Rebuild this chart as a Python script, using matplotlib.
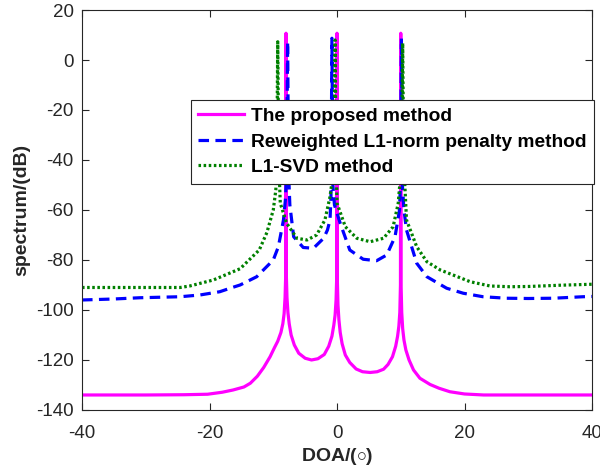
import numpy as np
import matplotlib.pyplot as plt

plt.rcParams['font.family'] = ['Liberation Sans', 'DejaVu Sans']
plt.rcParams['mathtext.fontset'] = 'custom'
plt.rcParams['mathtext.rm'] = 'Liberation Sans'
plt.rcParams['axes.unicode_minus'] = False

# The proposed method
doa_prop = [-40, -30, -24, -20.3, -18, -16.3, -14.6, -13.6, -12.5, -11.5, -10.5, -9.8, -9.3, -8.8, -8.5,
            -8.3, -8.15, -8.05, -8.0,
            -7.95, -7.85, -7.7, -7.5, -7.2, -6.7, -6, -5, -4, -3, -2, -1.3, -0.8, -0.5,
            -0.3, -0.15, -0.05, 0,
            0.05, 0.15, 0.3, 0.5, 0.8, 1.3, 2, 3, 4, 5.2, 6.3, 7.3, 8, 8.7, 9.2, 9.5, 9.7,
            9.85, 9.95, 10,
            10.05, 10.15, 10.3, 10.5, 10.8, 11.3, 12, 13, 14.6, 16, 17.7, 20, 23, 30, 40]
spec_prop = [-134, -134, -133.9, -133.7, -132.9, -132, -130.8, -129.3, -126.5, -123, -118.7, -115, -112.5, -109, -105.5,
             -101.5, -95, -86, 10.7,
             -86, -95, -101, -105.5, -110, -114, -117.3, -119.3, -120, -119.5, -117.8, -114.5, -110.5, -106,
             -102, -96, -87, 10.7,
             -88, -98, -104, -109, -113.5, -118, -121, -123.6, -124.7, -125, -124.7, -123.7, -121.8, -118.7, -114.5, -110.5, -106.5,
             -101, -90, 10.7,
             -90, -101, -107.5, -112, -116, -120, -124, -127.3, -129.8, -131.3, -132.7, -133.6, -134, -134, -134]

# Reweighted L1-norm penalty method
doa_rw = [-40, -35, -30.9, -24.6, -21.5, -18.4, -16.3, -15.2, -12.6, -10.5, -10, -9.2, -8.7, -8.4,
          -8.1, -7.9, -7.75, -7.6, -7.4, -6.8, -5.3, -3.7, -2.1, -1.5, -1.1, -0.95, -0.8, -0.65,
          -0.4, 0.5, 2, 4.1, 6.2, 7.8, 9.1, 9.8, 9.95, 10.1, 10.25, 10.5, 10.9, 12.5, 14.1,
          17.2, 19.8, 22.9, 26.6, 30, 33.9, 38.6, 40]
spec_rw = [-96, -95.6, -95.1, -94.7, -94, -92.7, -90.9, -90, -86.7, -81.3, -80, -74.7, -68, -64,
           -56, -45, 7.3, -45, -58, -70.7, -75, -75.3, -71.3, -68, -64, -55, 8.7, -50,
           -58, -65.3, -76, -79.7, -80.3, -78, -70.7, -60, -50, 8.7, -50, -60, -68, -81.3, -86.7,
           -91.3, -93.3, -94.7, -95.3, -95.4, -95.3, -94.7, -94.6]

# L1-SVD method
doa_svd = [-40, -30, -24.6, -23.1, -19.4, -15.2, -12.2, -11, -10, -9.6, -9.45, -9.3, -9.15,
           -8.9, -7.9, -6.3, -4.7, -3.2, -1.9, -1.1, -0.6, -0.45, -0.3, -0.15, 0, 1.3, 3.1,
           5.2, 7.3, 8.8, 9.6, 10.0, 10.15, 10.3, 10.45, 10.9, 12.5, 14.1, 16.2, 20.9, 24,
           27.1, 30, 35, 40]
spec_svd = [-91, -91, -91, -90.4, -88, -83.5, -76, -69, -60, -52, -40, 7.3, -40,
            -57.3, -65.3, -71.3, -72, -70, -64, -54.7, -45, -35, 8, -40, -57.3, -66.7, -71.3,
            -72.7, -71.3, -66.7, -57.3, -45, -35, 6.7, -40, -64, -74.7, -80.7, -84, -88.7, -90.4,
            -90.7, -90.6, -90.1, -89.7]

fig = plt.figure(figsize=(6, 4.72), dpi=100)
ax = fig.add_axes([0.1367, 0.1314, 0.85, 0.8474])

ax.plot(doa_prop, spec_prop, color='#ff00ff', lw=2.3, label='The proposed method')
ax.plot(doa_rw, spec_rw, color='#0000ff', lw=2.3, ls=(0, (3.3, 2.0)),
        label='Reweighted L1-norm penalty method')
ax.plot(doa_svd, spec_svd, color='#008000', lw=2.3, ls=(0, (0.8, 0.8)),
        label='L1-SVD method')

ax.set_xlim(-40, 40)
ax.set_ylim(-140, 20)
ax.set_xticks(np.arange(-40, 41, 20))
ax.set_yticks(np.arange(-140, 21, 20))

edge = '#262626'
for sp in ax.spines.values():
    sp.set_color(edge)
    sp.set_linewidth(0.8)
ax.tick_params(direction='in', length=5, width=0.8, color=edge, labelcolor=edge,
               labelsize=13.5, top=True, right=True)
ax.tick_params(axis='x', pad=10.5)
ax.tick_params(axis='y', pad=6)

ax.set_xlabel(r'DOA/($\circ$)', fontsize=14, fontweight='bold', color=edge, labelpad=3)
ax.set_ylabel('spectrum/(dB)', fontsize=14, fontweight='bold', color=edge, labelpad=4)

leg = ax.legend(loc='upper right', bbox_to_anchor=(1.004, 0.775), borderaxespad=0,
                prop={'weight': 'bold', 'size': 13.8}, fancybox=False, framealpha=1,
                edgecolor=edge, handlelength=2.4, handletextpad=0.35, labelspacing=0.42,
                borderpad=0.4)
leg.get_frame().set_linewidth(0.8)

fig.savefig('out.png', dpi=100)
